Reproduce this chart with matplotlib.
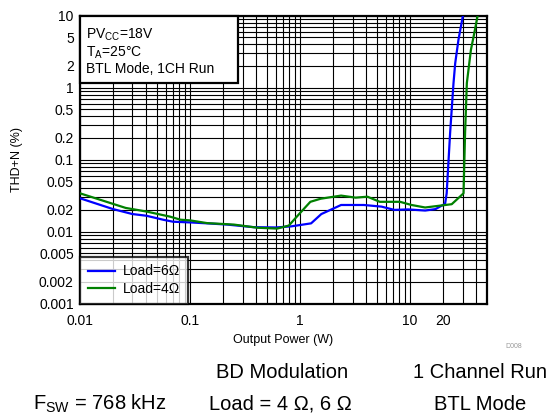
import matplotlib
matplotlib.use("Agg")
import matplotlib.pyplot as plt
from matplotlib.patches import Rectangle
from matplotlib.ticker import FixedLocator, NullFormatter, LogLocator

plt.rcParams['font.family'] = ['Liberation Sans', 'DejaVu Sans']
plt.rcParams['mathtext.fontset'] = 'custom'
plt.rcParams['mathtext.rm'] = 'Liberation Sans'
plt.rcParams['mathtext.it'] = 'Liberation Sans:italic'

# Load = 6 ohm
p6 = [0.01, 0.02, 0.03, 0.04, 0.057, 0.07, 0.1, 0.143, 0.217, 0.38, 0.6, 0.83,
      1.26, 1.56, 2.36, 3.8, 5.5, 7.2, 9.6, 13.7, 17, 20.8, 21.5, 23.1, 24.8,
      25.7, 27.5, 30.2]
thd6 = [0.029, 0.0205, 0.0175, 0.0166, 0.0146, 0.0137, 0.0134, 0.0130, 0.0125,
        0.0115, 0.0114, 0.0118, 0.0130, 0.0175, 0.0234, 0.0234, 0.0222, 0.0200,
        0.0203, 0.0196, 0.0205, 0.0243, 0.034, 0.233, 1.15, 2.18, 4.6, 10]

# Load = 4 ohm
p4 = [0.01, 0.0152, 0.026, 0.04, 0.066, 0.082, 0.1, 0.143, 0.25, 0.41, 0.62,
      0.79, 1.0, 1.24, 1.54, 2.36, 3.2, 4.1, 5.3, 8.1, 10.3, 13.7, 23.9, 30.6,
      31.6, 32.8, 35.7, 38.3, 41.1]
thd4 = [0.034, 0.0277, 0.0213, 0.019, 0.0161, 0.0146, 0.0143, 0.0131, 0.0125,
        0.0113, 0.011, 0.0121, 0.0181, 0.0259, 0.0286, 0.0316, 0.0296, 0.0305,
        0.0259, 0.0259, 0.0234, 0.0216, 0.0240, 0.034, 0.233, 1.16, 3.34, 5.7,
        10]

xticks = [0.01, 0.1, 1, 10, 20]
xticklabels = ['0.01', '0.1', '1', '10', '20']
yticks = [0.001, 0.002, 0.005, 0.01, 0.02, 0.05, 0.1, 0.2, 0.5, 1, 2, 5, 10]
yticklabels = ['0.001', '0.002', '0.005', '0.01', '0.02', '0.05', '0.1', '0.2',
               '0.5', '1', '2', '5', '10']

W, H = 555, 418
fig = plt.figure(figsize=(W / 100, H / 100), dpi=100)
ax = fig.add_axes([80 / W, 1 - 303.5 / H, 407 / W, 287.8 / H])
ax.set_xscale('log')
ax.set_yscale('log')
ax.set_xlim(0.01, 50)
ax.set_ylim(0.001, 10)

ax.plot(p6, thd6, color='#0000ff', lw=1.6, label='Load=6\u03a9', zorder=3)
ax.plot(p4, thd4, color='#008000', lw=1.6, label='Load=4\u03a9', zorder=3)

ax.xaxis.set_major_locator(FixedLocator(xticks))
ax.set_xticklabels(xticklabels)
ax.yaxis.set_major_locator(FixedLocator(yticks))
ax.set_yticklabels(yticklabels)
ax.xaxis.set_minor_locator(LogLocator(base=10, subs=range(1, 10), numticks=20))
ax.yaxis.set_minor_locator(LogLocator(base=10, subs=range(1, 10), numticks=20))
ax.xaxis.set_minor_formatter(NullFormatter())
ax.yaxis.set_minor_formatter(NullFormatter())
ax.grid(True, which='both', color='black', lw=0.8)
ax.tick_params(which='both', length=0, labelsize=10)
ax.tick_params(axis='x', pad=7.5)
ax.tick_params(axis='y', pad=4.5)

for s in ax.spines.values():
    s.set_linewidth(1.6)

fig.text(283 / W, 1 - 339.5 / H, 'Output Power (W)', fontsize=9,
         ha='center', va='center')
fig.text(17 / W, 1 - 159.6 / H, 'THD+N (%)', fontsize=9, rotation=90,
         ha='center', va='center')

leg = ax.legend(loc='lower left', fontsize=10, frameon=True, fancybox=False,
                borderaxespad=0, handlelength=2.0, handletextpad=0.55,
                borderpad=0.55, labelspacing=0.25)
leg.get_frame().set_edgecolor('black')
leg.get_frame().set_linewidth(1.6)
leg.set_zorder(5)

box = Rectangle((0, 0.766), 0.388, 0.234, transform=ax.transAxes,
                facecolor='white', edgecolor='black', lw=1.6, zorder=5,
                clip_on=False)
ax.add_patch(box)
ax.text(0.0155, 0.9215, 'PV$_\\mathregular{CC}$=18V', transform=ax.transAxes,
        fontsize=10, va='baseline', ha='left', zorder=6)
ax.text(0.0155, 0.8575, 'T$_\\mathregular{A}$=25\u00b0C', transform=ax.transAxes,
        fontsize=10, va='baseline', ha='left', zorder=6)
ax.text(0.0155, 0.800, 'BTL Mode, 1CH Run', transform=ax.transAxes,
        fontsize=10, va='baseline', ha='left', zorder=6)

fig.text(514 / W, 1 - 347 / H, 'D008', fontsize=5, color='#999999',
         ha='center', va='center')

fs = 14.5
fig.text(282 / W, 1 - 378 / H, 'BD Modulation', fontsize=fs,
         ha='center', va='baseline')
fig.text(480 / W, 1 - 378 / H, '1 Channel Run', fontsize=fs,
         ha='center', va='baseline')
fig.text(100 / W, 1 - 410 / H, 'F$_\\mathregular{SW}$ = 768 kHz', fontsize=fs,
         ha='center', va='baseline')
fig.text(280 / W, 1 - 410 / H, 'Load = 4 \u03a9, 6 \u03a9', fontsize=fs,
         ha='center', va='baseline')
fig.text(480 / W, 1 - 410 / H, 'BTL Mode', fontsize=fs,
         ha='center', va='baseline')

fig.savefig('out.png', dpi=100)
